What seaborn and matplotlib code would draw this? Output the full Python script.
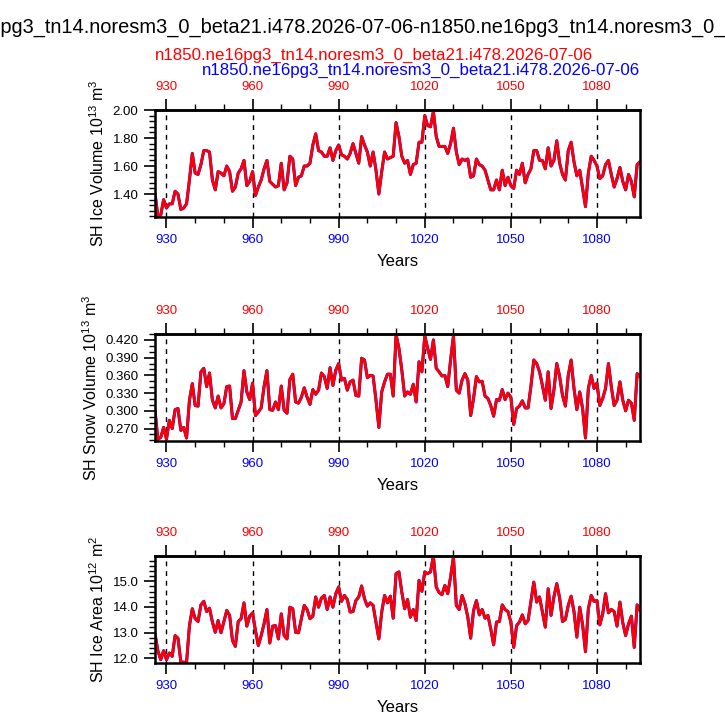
import numpy as np
import pandas as pd
import matplotlib
matplotlib.use("Agg")
import matplotlib.pyplot as plt
import matplotlib.ticker as mticker
import seaborn as sns

# years 926..1095, annual means
years = list(range(926, 1096))

ice_volume = [
    1.405, 1.24, 1.25, 1.36,
    1.30, 1.33, 1.33, 1.42, 1.40, 1.29, 1.30, 1.33, 1.50, 1.69,
    1.55, 1.54, 1.61, 1.71, 1.71, 1.70, 1.50, 1.43, 1.56, 1.55,
    1.53, 1.60, 1.56, 1.42, 1.45, 1.55, 1.58, 1.64, 1.46, 1.49,
    1.56, 1.39, 1.45, 1.50, 1.58, 1.64, 1.49, 1.47, 1.45, 1.46,
    1.62, 1.43, 1.48, 1.67, 1.65, 1.46, 1.52, 1.53, 1.60, 1.60,
    1.62, 1.75, 1.83, 1.71, 1.70, 1.67, 1.67, 1.73, 1.64, 1.71,
    1.75, 1.68, 1.67, 1.65, 1.69, 1.76, 1.69, 1.62, 1.81, 1.75,
    1.70, 1.60, 1.70, 1.57, 1.40, 1.56, 1.70, 1.65, 1.66, 1.67,
    1.91, 1.81, 1.67, 1.62, 1.64, 1.54, 1.61, 1.62, 1.77, 1.77,
    1.96, 1.89, 1.88, 1.99, 1.81, 1.74, 1.74, 1.74, 1.69, 1.76,
    1.87, 1.70, 1.61, 1.65, 1.64, 1.65, 1.52, 1.53, 1.65, 1.61,
    1.60, 1.57, 1.50, 1.43, 1.43, 1.50, 1.43, 1.57, 1.46, 1.52,
    1.46, 1.44, 1.57, 1.54, 1.62, 1.48, 1.54, 1.58, 1.71, 1.71,
    1.64, 1.64, 1.58, 1.73, 1.60, 1.64, 1.78, 1.62, 1.54, 1.50,
    1.71, 1.77, 1.63, 1.53, 1.57, 1.44, 1.31, 1.55, 1.67, 1.64,
    1.60, 1.51, 1.53, 1.61, 1.64, 1.54, 1.45, 1.51, 1.59, 1.49,
    1.43, 1.54, 1.49, 1.38, 1.61, 1.63,
]

snow_volume = [
    0.301, 0.252, 0.255, 0.272,
    0.252, 0.284, 0.270, 0.302, 0.304, 0.267, 0.272, 0.254, 0.318, 0.346,
    0.309, 0.308, 0.366, 0.372, 0.341, 0.364, 0.318, 0.305, 0.325, 0.305,
    0.312, 0.341, 0.342, 0.287, 0.287, 0.301, 0.315, 0.368, 0.332, 0.319,
    0.347, 0.292, 0.298, 0.305, 0.341, 0.368, 0.302, 0.301, 0.315, 0.302,
    0.342, 0.301, 0.296, 0.353, 0.362, 0.315, 0.313, 0.323, 0.339, 0.323,
    0.311, 0.336, 0.328, 0.335, 0.364, 0.358, 0.338, 0.373, 0.343, 0.369,
    0.380, 0.352, 0.355, 0.335, 0.349, 0.352, 0.326, 0.325, 0.389, 0.386,
    0.356, 0.360, 0.359, 0.318, 0.272, 0.332, 0.349, 0.362, 0.362, 0.325,
    0.429, 0.406, 0.369, 0.325, 0.332, 0.328, 0.345, 0.315, 0.383, 0.366,
    0.427, 0.406, 0.387, 0.420, 0.372, 0.366, 0.359, 0.360, 0.341, 0.386,
    0.427, 0.335, 0.330, 0.352, 0.363, 0.352, 0.292, 0.321, 0.358, 0.349,
    0.350, 0.325, 0.321, 0.309, 0.291, 0.319, 0.318, 0.336, 0.319, 0.330,
    0.323, 0.277, 0.304, 0.308, 0.317, 0.305, 0.305, 0.342, 0.386, 0.380,
    0.366, 0.343, 0.318, 0.366, 0.304, 0.335, 0.380, 0.358, 0.326, 0.308,
    0.360, 0.386, 0.338, 0.302, 0.332, 0.304, 0.254, 0.338, 0.360, 0.338,
    0.347, 0.309, 0.321, 0.338, 0.380, 0.341, 0.309, 0.318, 0.349, 0.318,
    0.300, 0.318, 0.313, 0.284, 0.363, 0.358,
]

ice_area = [
    12.95, 12.29, 11.94, 12.29,
    11.94, 12.20, 12.07, 12.88, 12.78, 11.86, 11.84, 11.84, 13.27, 13.93,
    13.54, 13.43, 14.08, 14.22, 13.82, 13.95, 13.41, 13.01, 13.47, 12.99,
    13.43, 13.86, 13.67, 12.69, 12.46, 13.43, 13.54, 14.16, 13.25, 13.64,
    13.77, 13.08, 12.49, 12.88, 13.34, 13.90, 12.59, 13.25, 13.27, 12.75,
    13.73, 12.88, 12.75, 13.99, 13.93, 13.01, 12.99, 13.54, 14.06, 13.90,
    13.54, 13.64, 14.39, 13.99, 14.35, 14.45, 13.90, 14.39, 13.99, 14.52,
    14.78, 14.22, 14.45, 14.29, 13.80, 13.82, 14.25, 14.39, 14.82, 14.32,
    14.03, 14.16, 14.06, 13.41, 12.75, 13.80, 14.45, 14.16, 14.42, 13.56,
    15.30, 15.37, 14.58, 13.93, 14.29, 13.60, 13.90, 13.47, 15.04, 14.61,
    15.37, 15.30, 15.37, 15.99, 14.78, 14.56, 14.48, 14.84, 14.52, 15.17,
    15.95, 14.06, 13.90, 14.45, 14.12, 13.60, 12.78, 13.86, 14.25, 13.69,
    13.90, 13.56, 13.67, 13.14, 12.52, 13.41, 13.43, 14.08, 13.90, 13.82,
    13.41, 12.42, 13.27, 13.41, 13.69, 13.34, 13.47, 14.22, 14.97, 14.19,
    14.39, 13.80, 13.21, 14.71, 13.67, 14.39, 14.91, 14.35, 13.43, 13.51,
    14.06, 14.42, 13.82, 12.82, 13.99, 13.30, 12.25, 13.93, 14.45, 14.22,
    14.25, 13.30, 13.73, 14.52, 13.77, 13.90, 13.82, 13.25, 14.19, 13.38,
    12.88, 13.34, 13.64, 12.42, 14.08, 13.86,
]

case_name = "n1850.ne16pg3_tn14.noresm3_0_beta21.i478.2026-07-06"
title = case_name + "-" + case_name
dash_years = [930, 960, 990, 1020, 1050, 1080]

panels = [
    ("SH Ice Volume 10$^{13}$ m$^{3}$", ice_volume, (1.236, 2.0), 0.2, 0.04, "%.2f", 1.4),
    ("SH Snow Volume 10$^{13}$ m$^{3}$", snow_volume, (0.249, 0.430), 0.03, 0.01, "%.3f", 0.27),
    ("SH Ice Area 10$^{12}$ m$^{2}$", ice_area, (11.81, 15.99), 1.0, 0.2, "%.1f", 12.0),
]

sns.set_style("ticks", {"axes.edgecolor": "black", "xtick.color": "black",
                        "ytick.color": "black", "text.color": "black",
                        "axes.labelcolor": "black"})
plt.rcParams["font.family"] = ["Liberation Sans", "DejaVu Sans"]
plt.rcParams["mathtext.fontset"] = "custom"
plt.rcParams["mathtext.rm"] = "Liberation Sans"
plt.rcParams["mathtext.it"] = "Liberation Sans:italic"

fig = plt.figure(figsize=(7.25, 7.25), dpi=100)

# the title is wider than the page: it runs off both sides, with
# "pg3_" of the first case name starting near the left edge
title_size = 14.4
renderer = fig.canvas.get_renderer()
probe = fig.text(0, 0, "n1850.ne16", fontsize=title_size)
prefix_w = probe.get_window_extent(renderer).width
probe.remove()
fig.text((1 - prefix_w) / 725, 1 - 27 / 725, title, ha="left", va="center",
         fontsize=title_size)
fig.text(155 / 725, 1 - 55 / 725, case_name, color="red", ha="left", va="center", fontsize=12.2)
fig.text(640 / 725, 1 - 70 / 725, case_name, color="blue", ha="right", va="center", fontsize=12.2)

bottoms = [1 - 217 / 725, 1 - 441 / 725, 1 - 663 / 725]
df = pd.DataFrame({"year": years})

for (label, vals, ylim, major, minor, fmt, base), b in zip(panels, bottoms):
    ax = fig.add_axes([155 / 725, b, 485 / 725, 107 / 725])
    df["val"] = vals
    sns.lineplot(data=df, x="year", y="val", color="blue", lw=2.2, ax=ax)
    sns.lineplot(data=df, x="year", y="val", color="red", lw=2.0, ax=ax)
    for xv in dash_years:
        ax.axvline(xv, color="black", lw=1.0, ls=(0, (3.5, 3.5)), zorder=0)

    ax.set_xlim(926, 1095)
    ax.set_ylim(*ylim)
    ax.xaxis.set_major_locator(mticker.MultipleLocator(30))
    ax.xaxis.set_minor_locator(mticker.MultipleLocator(10))
    ax.yaxis.set_major_locator(mticker.MultipleLocator(major, offset=base % major))
    ax.yaxis.set_minor_locator(mticker.MultipleLocator(minor, offset=base % minor))
    ax.yaxis.set_major_formatter(mticker.FormatStrFormatter(fmt))
    ax.tick_params(which="major", direction="out", length=8, width=1.2,
                   labelsize=9.5, pad=4)
    ax.tick_params(which="minor", direction="out", length=4, width=1.0)
    ax.tick_params(axis="x", colors="black", labelcolor="blue")
    ax.tick_params(right=False, top=False)
    for s in ax.spines.values():
        s.set_linewidth(1.8)
        s.set_color("black")
        s.set_visible(True)

    top = ax.secondary_xaxis("top")
    top.xaxis.set_major_locator(mticker.MultipleLocator(30))
    top.xaxis.set_minor_locator(mticker.MultipleLocator(10))
    top.tick_params(which="major", direction="out", length=8, width=1.2,
                    labelsize=9.5, labelcolor="red", color="black", pad=4)
    top.tick_params(which="minor", direction="out", length=4, width=1.0, color="black")
    top.spines["top"].set_linewidth(1.8)
    top.spines["top"].set_color("black")

    ax.set_xlabel("Years", fontsize=12, labelpad=6)
    ax.set_ylabel(label, fontsize=11.5, labelpad=4)

fig.savefig("out.png", dpi=100)
